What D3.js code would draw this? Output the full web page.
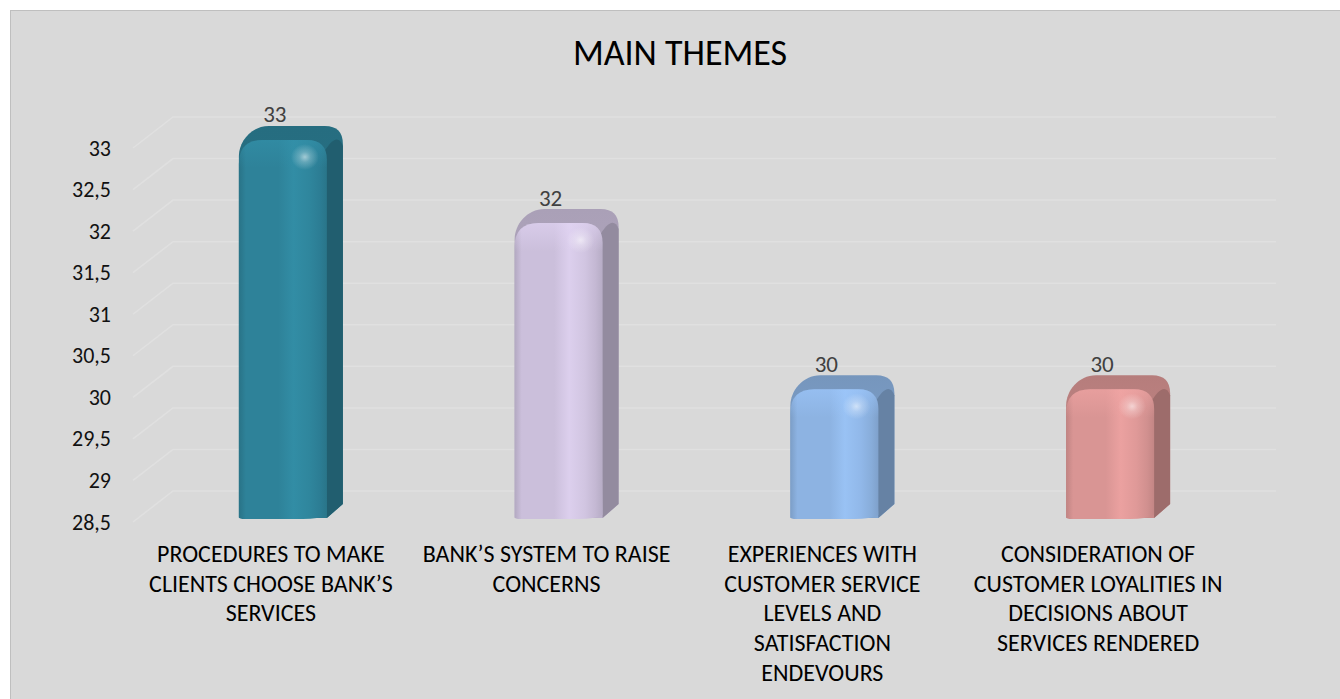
<!DOCTYPE html>
<html>
<head>
<meta charset="utf-8">
<script src="https://cdn.jsdelivr.net/npm/d3@7"></script>
<style>
  html, body { margin: 0; padding: 0; background: #fff; }
  svg { display: block; font-family: Carlito, Lato, "Open Sans", sans-serif; }
</style>
</head>
<body>
<svg id="chart" width="1340" height="699"></svg>
<script>
// chart data
const categories = [
  ["PROCEDURES TO MAKE", "CLIENTS CHOOSE BANK\u2019S", "SERVICES"],
  ["BANK\u2019S SYSTEM TO RAISE", "CONCERNS"],
  ["EXPERIENCES WITH", "CUSTOMER SERVICE", "LEVELS AND", "SATISFACTION", "ENDEVOURS"],
  ["CONSIDERATION OF", "CUSTOMER LOYALITIES IN", "DECISIONS ABOUT", "SERVICES RENDERED"]
];
const values = [33, 32, 30, 30];
const barColors = ["#2e8299", "#cbbfdb", "#8db3e2", "#d99594"];
const yTicks = [28.5, 29, 29.5, 30, 30.5, 31, 31.5, 32, 32.5, 33];

const svg = d3.select("#chart");
const defs = svg.append("defs");

// chart area background
svg.append("rect")
  .attr("x", 10.5).attr("y", 10.5)
  .attr("width", 1340).attr("height", 700)
  .attr("fill", "#d9d9d9")
  .attr("stroke", "#bfbfbf")
  .attr("stroke-width", 1);

// 3d depth of the back wall
const wallDx = 40, wallDy = -31;

const y = d3.scaleLinear().domain([28.5, 33]).range([522, 148]);
const x = d3.scaleBand().domain(d3.range(categories.length)).range([133, 1236]);

// gridlines: floor diagonal + back wall
const grid = svg.append("g");
yTicks.forEach(t => {
  grid.append("path")
    .attr("d", `M${133},${y(t)} L${133 + wallDx},${y(t) + wallDy} H1276`)
    .attr("fill", "none")
    .attr("stroke", "#e0e0e0")
    .attr("stroke-width", 1.5);
});

// y axis
const yAxis = svg.append("g")
  .attr("transform", "translate(111,0)")
  .call(d3.axisLeft(y).tickValues(yTicks).tickSize(0).tickPadding(0)
    .tickFormat(d => String(d).replace(".", ",")));
yAxis.select(".domain").remove();
yAxis.selectAll("text")
  .attr("font-family", "Carlito, Lato, sans-serif")
  .attr("font-size", 22)
  .attr("fill", "#111");

// title
svg.append("text")
  .attr("x", 680).attr("y", 56)
  .attr("text-anchor", "middle")
  .attr("dominant-baseline", "middle")
  .attr("font-size", 36)
  .attr("fill", "#000")
  .text("MAIN THEMES");

// bars
const dx = 16, dy = -14;
const bars = svg.append("g");
values.forEach((v, i) => {
  const base = d3.color(barColors[i]);
  const c = x(i) + x.bandwidth() / 2;
  const L = c - 32, R = c + 56;
  const T = y(v) - 8;
  const B = y(28.5) - 4;

  const gid = "front" + i;
  const g = defs.append("linearGradient").attr("id", gid)
    .attr("x1", 0).attr("x2", 1).attr("y1", 0).attr("y2", 0);
  [[0, base.darker(0.35)], [0.08, base], [0.45, base], [0.62, base.brighter(0.22)],
   [0.8, base.brighter(0.08)], [0.92, base.darker(0.1)], [1, base.darker(0.3)]]
    .forEach(s => g.append("stop").attr("offset", s[0]).attr("stop-color", s[1]));

  const tid = "top" + i;
  const tg = defs.append("linearGradient").attr("id", tid)
    .attr("x1", 0).attr("x2", 0).attr("y1", 0).attr("y2", 1);
  tg.append("stop").attr("offset", 0).attr("stop-color", base.darker(0.5));
  tg.append("stop").attr("offset", 1).attr("stop-color", base.darker(0.2));

  const hid = "hl" + i;
  const hg = defs.append("radialGradient").attr("id", hid);
  hg.append("stop").attr("offset", 0).attr("stop-color", "#fff").attr("stop-opacity", 0.55);
  hg.append("stop").attr("offset", 0.4).attr("stop-color", "#fff").attr("stop-opacity", 0.25);
  hg.append("stop").attr("offset", 1).attr("stop-color", "#fff").attr("stop-opacity", 0);

  const capId = "cap" + i;
  const cg = defs.append("linearGradient").attr("id", capId)
    .attr("x1", 0).attr("x2", 0).attr("y1", 0).attr("y2", 1);
  cg.append("stop").attr("offset", 0).attr("stop-color", base.brighter(0.3)).attr("stop-opacity", 0.55);
  cg.append("stop").attr("offset", 1).attr("stop-color", base.brighter(0.3)).attr("stop-opacity", 0);

  const bar = bars.append("g");

  // hull (top face)
  bar.append("path")
    .attr("d", `M${L},${B} V${T + 16} C${L},${T + 2} ${L + 12},${T + dy} ${L + 30},${T + dy}
      H${R + dx - 18} Q${R + dx},${T + dy} ${R + dx},${T + dy + 18}
      V${B + dy} L${R},${B} Z`)
    .attr("fill", `url(#${tid})`);

  // side face
  bar.append("path")
    .attr("d", `M${R - 4},${T + 14} Q${R + dx - 6},${T + dy + 4} ${R + dx},${T + dy + 20}
      V${B + dy} L${R},${B} Z`)
    .attr("fill", base.darker(0.9));

  // front face
  bar.append("path")
    .attr("d", `M${L},${B - 1} V${T + 24} Q${L},${T} ${L + 24},${T}
      H${R - 20} Q${R},${T} ${R},${T + 20} V${B - 3} Q${R - 8},${B + 1} ${R - 24},${B + 1}
      H${L + 6} Q${L},${B + 1} ${L},${B - 1} Z`)
    .attr("fill", `url(#${gid})`);

  // rounded cap shading
  bar.append("path")
    .attr("d", `M${L},${T + 28} V${T + 24} Q${L},${T} ${L + 24},${T}
      H${R - 20} Q${R},${T} ${R},${T + 20} V${T + 28} Z`)
    .attr("fill", `url(#${capId})`);

  // highlight
  bar.append("ellipse")
    .attr("cx", R - 22).attr("cy", T + 17)
    .attr("rx", 14).attr("ry", 13)
    .attr("fill", `url(#${hid})`);

  // data label
  svg.append("text")
    .attr("x", c + 4)
    .attr("y", y(v) + wallDy)
    .attr("text-anchor", "middle")
    .attr("dominant-baseline", "middle")
    .attr("font-size", 23)
    .attr("fill", "#404040")
    .text(v);
});

// category labels
const labels = svg.append("g");
categories.forEach((lines, i) => {
  const c = x(i) + x.bandwidth() / 2;
  const t = labels.append("text")
    .attr("text-anchor", "middle")
    .attr("font-size", 24)
    .attr("fill", "#000");
  lines.forEach((ln, k) => {
    t.append("tspan")
      .attr("x", c)
      .attr("y", 562 + k * 29.7)
      .text(ln);
  });
});
</script>
</body>
</html>
